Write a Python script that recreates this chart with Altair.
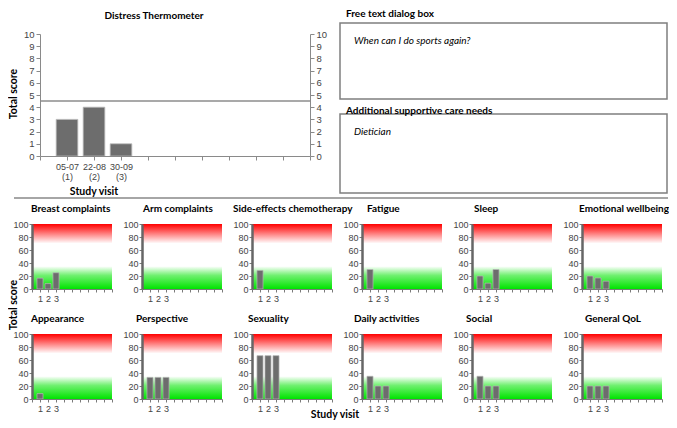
import json
import altair as alt
import pandas as pd

# ---------------- data ----------------
DT_DATES = ["05-07", "22-08", "30-09"]
DT_SCORES = [3, 4, 1]
DT_THRESHOLD = 4.5

DOMAINS = [
    "Breast complaints", "Arm complaints", "Side-effects chemotherapy",
    "Fatigue", "Sleep", "Emotional wellbeing",
    "Appearance", "Perspective", "Sexuality",
    "Daily activities", "Social", "General QoL",
]
SCORES = [
    [16.7, 8.3, 25.0],
    [None, None, None],
    [28.6, None, None],
    [30.0, None, None],
    [20.0, 9.0, 30.0],
    [20.0, 17.0, 12.0],
    [8.3, None, None],
    [33.3, 33.3, 33.3],
    [66.7, 66.7, 66.7],
    [35.0, 20.0, 20.0],
    [35.0, 20.0, 20.0],
    [20.0, 20.0, 20.0],
]
VISITS = [1, 2, 3]
RED_BAND = [70, 100]
GREEN_BAND = [0, 35]
FREE_TEXT = "When can I do sports again?"
CARE_NEEDS = "Dietician"

# ---------------- layout / style ----------------
W, H = 661, 412
LABEL_FONT = "Liberation Sans"
TITLE_FONT = "Lato"
AX_COL = "#444444"
BAR_FILL = "#6d6d6d"
BAR_STROKE = "#b8b8b8"

DT_X = [32, 302]
DT_Y = [148, 26]
PX0, PDX, PW = 24, 110, 80
ROW_TOPS = [216, 326]
PH = 65
TITLE_DX = [-1, 1, -19, 5, 2, -3, -1, -6, -4, -8, -6, 3]

one = pd.DataFrame({"k": [0]})


def txt(text, x, y, size=10, weight="normal", style="normal", align="left",
        angle=0, font=TITLE_FONT, color="#000000"):
    return alt.Chart(one).mark_text(
        align=align, baseline="middle", fontSize=size, fontWeight=weight,
        fontStyle=style, font=font, color=color, angle=angle,
    ).encode(x=alt.value(x), y=alt.value(y), text=alt.value(text))


def box(x, x2, y, y2):
    return alt.Chart(one).mark_rect(
        fill="white", fillOpacity=0, stroke="#7f7f7f", strokeWidth=1.5
    ).encode(x=alt.value(x), x2=alt.value(x2), y=alt.value(y), y2=alt.value(y2))


# ---------------- distress thermometer ----------------
dt_df = pd.DataFrame({"visit": VISITS, "score": DT_SCORES})
dxs = alt.Scale(domain=[0, 10], range=DT_X, nice=False, zero=False)
dys = alt.Scale(domain=[0, 10], range=DT_Y, nice=False)
dt_label_expr = (
    f"datum.value >= 1 && datum.value <= {len(DT_DATES)} ? "
    f"[{json.dumps(DT_DATES)}[datum.value - 1], '(' + datum.value + ')'] : ''"
)
common_ax = dict(grid=False, title=None, labelFont=LABEL_FONT, labelColor=AX_COL,
                 domainColor="#8a8a8a", tickColor="#8a8a8a", zindex=1)
dt_xaxis = alt.Axis(orient="bottom", offset=DT_Y[0] - H, values=list(range(11)),
                    labelExpr=dt_label_expr, tickSize=4, labelLineHeight=10,
                    labelPadding=2, labelFontSize=9, **common_ax)
dt_yaxis_l = alt.Axis(orient="left", offset=-DT_X[0], values=list(range(11)),
                      tickSize=4, labelPadding=2, labelFontSize=9.5, **common_ax)
dt_yaxis_r = alt.Axis(orient="right", offset=DT_X[1] - W, values=list(range(11)),
                      tickSize=4, labelPadding=2, labelFontSize=9.5, **common_ax)

dt_bars = alt.Chart(dt_df).transform_calculate(
    x0="datum.visit - 0.4", x1="datum.visit + 0.4"
).mark_bar(fill=BAR_FILL, stroke=BAR_STROKE, strokeWidth=0.8).encode(
    x=alt.X("x0:Q", scale=dxs, axis=dt_xaxis),
    x2="x1:Q",
    y=alt.Y("score:Q", scale=dys, axis=dt_yaxis_l, stack=None),
    y2=alt.datum(0),
)
dt_rule = alt.Chart(pd.DataFrame({"thr": [DT_THRESHOLD]})).mark_rule(
    color="#8c8c8c", strokeWidth=1.5
).encode(
    y=alt.Y("thr:Q", scale=dys, axis=dt_yaxis_r),
    x=alt.datum(0, type="quantitative", scale=dxs, axis=dt_xaxis),
    x2=alt.datum(10),
)
dt_layer = alt.layer(dt_bars, dt_rule).resolve_axis(y="independent")

# ---------------- small panels ----------------
red_grad = alt.LinearGradient(
    gradient="linear", x1=0, x2=0, y1=0, y2=1,
    stops=[alt.GradientStop(color="#ff0000", offset=0),
           alt.GradientStop(color="#ff8080", offset=0.5),
           alt.GradientStop(color="#ffffff", offset=1)],
)
green_grad = alt.LinearGradient(
    gradient="linear", x1=0, x2=0, y1=0, y2=1,
    stops=[alt.GradientStop(color="#ffffff", offset=0),
           alt.GradientStop(color="#70f070", offset=0.4),
           alt.GradientStop(color="#00e400", offset=1)],
)

panels = []
for i, (name, scores) in enumerate(zip(DOMAINS, SCORES)):
    col, row = i % 6, i // 6
    px = PX0 + col * PDX
    top = ROW_TOPS[row]
    bottom = top + PH
    xs = alt.Scale(domain=[0, 10], range=[px, px + PW], nice=False, zero=False)
    ys = alt.Scale(domain=[0, 100], range=[bottom, top], nice=False)
    xaxis = alt.Axis(orient="bottom", offset=bottom - H, values=list(range(11)),
                     labelExpr="datum.value >= 1 && datum.value <= 3 ? datum.label : ''",
                     tickSize=3, labelPadding=2, labelFontSize=9, grid=False, title=None,
                     labelFont=LABEL_FONT, labelColor=AX_COL, zindex=1,
                     domainColor="#7a7a7a", tickColor="#7a7a7a")
    yaxis = alt.Axis(orient="left", offset=-px, values=[0, 20, 40, 60, 80, 100],
                     tickSize=3, labelPadding=1, labelFontSize=9, grid=False, title=None,
                     labelFont=LABEL_FONT, labelColor=AX_COL, zindex=1,
                     domainColor="#666666", domainWidth=2.5, tickColor="#7a7a7a")
    red = alt.Chart(pd.DataFrame({"lo": [RED_BAND[0]], "hi": [RED_BAND[1]]})).mark_rect(
        fill=red_grad).encode(
        x=alt.datum(0, type="quantitative", scale=xs, axis=xaxis),
        x2=alt.datum(10),
        y=alt.Y("lo:Q", scale=ys, axis=yaxis),
        y2="hi:Q",
    )
    green = alt.Chart(pd.DataFrame({"lo": [GREEN_BAND[0]], "hi": [GREEN_BAND[1]]})).mark_rect(
        fill=green_grad).encode(
        x=alt.datum(0, type="quantitative", scale=xs, axis=xaxis),
        x2=alt.datum(10),
        y=alt.Y("lo:Q", scale=ys, axis=yaxis),
        y2="hi:Q",
    )
    df = pd.DataFrame({"visit": VISITS, "score": scores})
    bars = alt.Chart(df).transform_filter("isValid(datum.score)").transform_calculate(
        x0="datum.visit - 0.38", x1="datum.visit + 0.38"
    ).mark_bar(fill=BAR_FILL, stroke=BAR_STROKE, strokeWidth=0.7).encode(
        x=alt.X("x0:Q", scale=xs, axis=xaxis),
        x2="x1:Q",
        y=alt.Y("score:Q", scale=ys, axis=yaxis, stack=None),
        y2=alt.datum(0),
    )
    panels.append(alt.layer(red, green, bars))
    panels.append(txt(name, px + TITLE_DX[i], top - 15, size=10, weight="bold"))

# ---------------- annotations ----------------
annots = [
    txt("Distress Thermometer", 146, 8, size=10, weight="bold", align="center"),
    txt("Total score", 6, 86, size=10.5, weight="bold", align="center", angle=270),
    txt("Study visit", 86, 184, size=10.5, weight="bold", align="center"),
    txt("Total score", 6, 297, size=10.5, weight="bold", align="center", angle=270),
    txt("Study visit", 327, 407, size=10.5, weight="bold", align="center"),
    txt("Free text dialog box", 338, 6, size=10, weight="bold"),
    box(332, 659, 15, 91),
    txt(FREE_TEXT, 346, 33, size=10, style="italic"),
    box(332, 659, 106, 185),
    txt("Additional supportive care needs", 338, 103, size=10, weight="bold"),
    txt(CARE_NEEDS, 346, 124, size=10, style="italic"),
    alt.Chart(one).mark_rule(color="#a6a6a6", strokeWidth=2).encode(
        x=alt.value(6), x2=alt.value(660), y=alt.value(190)),
]

chart = alt.layer(dt_layer, *panels, *annots).resolve_scale(
    x="independent", y="independent"
).resolve_axis(x="independent", y="independent").properties(
    width=W, height=H, padding=0, autosize="none"
).configure_view(stroke=None)

chart.save("out.html", embed_options={"renderer": "svg", "actions": False})
